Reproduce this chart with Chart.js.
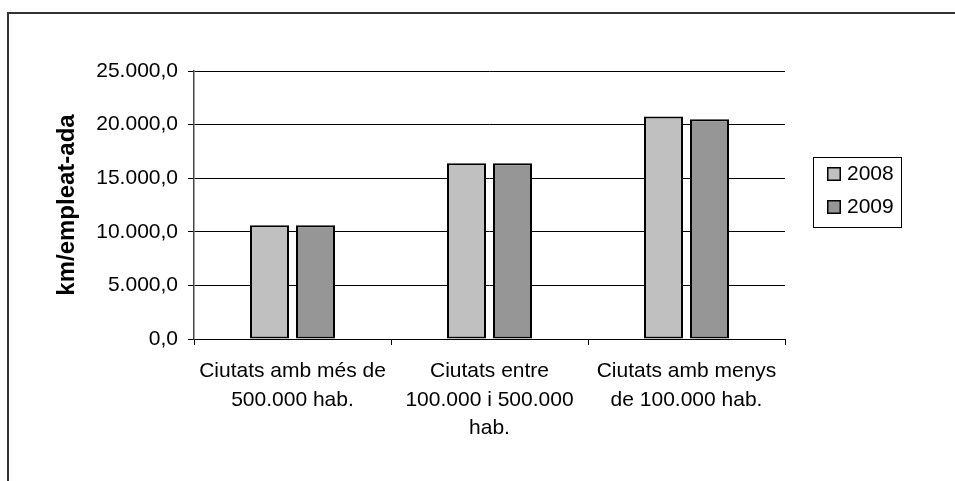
<!DOCTYPE html>
<html><head><meta charset="utf-8">
<script src="https://cdn.jsdelivr.net/npm/chart.js@4"></script>
<style>html,body{margin:0;padding:0;background:#fff}#wrap{width:955px;height:481px;position:relative}</style>
</head><body><div id="wrap"><canvas id="c" width="955" height="481"></canvas></div>
<script>
const categories = [['Ciutats amb més de','500.000 hab.'],['Ciutats entre','100.000 i 500.000','hab.'],['Ciutats amb menys','de 100.000 hab.']];
const seriesNames = ['2008','2009'];
const values2008 = [10600, 16400, 20750];
const values2009 = [10600, 16400, 20500];
const yTickValues = [0, 5000, 10000, 15000, 20000, 25000];
const yTickLabels = ['0,0', '5.000,0', '10.000,0', '15.000,0', '20.000,0', '25.000,0'];
const yTitle = 'km/empleat-ada';
const seriesColors = ['#c0c0c0', '#969696'];

const FONT = "'Liberation Sans', Arial, sans-serif";

const framePlugin = {
  id: 'frame',
  beforeDraw(chart) {
    const ctx = chart.ctx;
    ctx.save();
    ctx.fillStyle = '#fff';
    ctx.fillRect(0, 0, chart.width, chart.height);
    ctx.strokeStyle = '#333';
    ctx.lineWidth = 2;
    ctx.beginPath();
    ctx.moveTo(8, 481);
    ctx.lineTo(8, 13);
    ctx.lineTo(955, 13);
    ctx.stroke();
    ctx.restore();
  }
};

const legendPlugin = {
  id: 'boxLegend',
  afterDraw(chart) {
    const ctx = chart.ctx;
    ctx.save();
    ctx.strokeStyle = '#000';
    ctx.lineWidth = 1;
    ctx.strokeRect(813.5, 157.5, 88, 70);
    chart.data.datasets.forEach((ds, i) => {
      const y = 167 + i * 33;
      ctx.fillStyle = ds.backgroundColor;
      ctx.fillRect(827, y, 14, 14);
      ctx.lineWidth = 1.5;
      ctx.strokeStyle = '#000';
      ctx.strokeRect(827.75, y + 0.75, 12.5, 12.5);
      ctx.fillStyle = '#000';
      ctx.font = '21px ' + FONT;
      ctx.textBaseline = 'middle';
      ctx.textAlign = 'left';
      ctx.fillText(ds.label, 847, y + 7.5);
    });
    ctx.restore();
  }
};

new Chart(document.getElementById('c'), {
  type: 'bar',
  data: {
    labels: categories,
    datasets: [
      { label: seriesNames[0], data: values2008, backgroundColor: seriesColors[0], borderColor: '#000', borderWidth: 2, borderSkipped: false, categoryPercentage: 0.467, barPercentage: 0.848 },
      { label: seriesNames[1], data: values2009, backgroundColor: seriesColors[1], borderColor: '#000', borderWidth: 2, borderSkipped: false, categoryPercentage: 0.467, barPercentage: 0.848 }
    ]
  },
  options: {
    responsive: false,
    animation: false,
    layout: { padding: { left: 50, right: 170, top: 71, bottom: 0 } },
    plugins: { legend: { display: false }, tooltip: { enabled: false } },
    scales: {
      x: {
        afterFit(s) { s.height = 142; },
        grid: { display: true, drawOnChartArea: false, drawTicks: true, tickLength: 6, tickColor: '#000', offset: true },
        border: { display: true, color: '#000', width: 1 },
        ticks: { color: '#000', font: { family: FONT, size: 21, lineHeight: 1.36 }, padding: 12, maxRotation: 0, minRotation: 0, autoSkip: false }
      },
      y: {
        min: 0, max: 25000,
        afterFit(s) { s.width = 144; },
        ticks: {
          stepSize: 5000, color: '#000', padding: 10,
          font: { family: FONT, size: 21 },
          callback: (v) => { const i = yTickValues.indexOf(v); return i >= 0 ? yTickLabels[i] : ''; }
        },
        grid: { color: '#000', lineWidth: 1, drawTicks: true, tickLength: 6, tickColor: '#000' },
        border: { display: true, color: '#444', width: 1.5 },
        title: { display: true, text: yTitle, color: '#000', font: { family: FONT, size: 24, weight: 'bold' }, padding: { top: 3, bottom: 0 } }
      }
    }
  },
  plugins: [framePlugin, legendPlugin]
});
</script>
</body></html>
